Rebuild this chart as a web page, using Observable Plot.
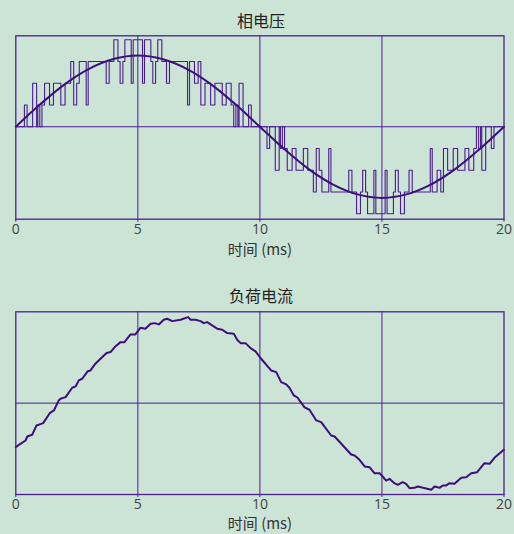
<!DOCTYPE html>
<html><head><meta charset="utf-8">
<script src="https://cdn.jsdelivr.net/npm/d3@7"></script>
<script src="https://cdn.jsdelivr.net/npm/@observablehq/plot@0.6"></script>
<style>
body{margin:0;background:#cce4d6;}
#wrap{position:relative;width:514px;height:534px;background:#cce4d6;overflow:hidden;}
.ttl{position:absolute;left:4px;width:514px;text-align:center;font-family:"Noto Sans CJK SC";font-size:16px;color:#222;line-height:1;}
.xl{position:absolute;left:3px;width:514px;text-align:center;font-family:"Noto Sans CJK SC","Open Sans";font-size:15px;color:#333;line-height:1;}
.panel{position:absolute;left:0;}
</style></head><body><div id="wrap"></div>
<script>
const titles = ["相电压", "负荷电流"];
const xLabel = "时间 (ms)";
const xTicks = [0, 5, 10, 15, 20];
const xGrid = [5, 10, 15];

// Phase voltage: PWM multilevel step waveform (transition time, level after it)
const pwmTime = [
  0, 0.353, 0.463, 0.690, 0.853, 0.902, 0.983, 1.072, 1.178, 1.381, 1.543, 1.844, 2.019, 2.250, 2.372, 2.494, 2.600, 2.884, 2.965, 3.704, 3.826, 4.017, 4.184, 4.273, 4.387, 4.468, 4.728, 4.809,
  5.191, 5.272, 5.532, 5.613, 5.727, 5.816, 5.983, 6.174, 6.296, 7.035, 7.116, 7.32, 7.47, 7.58, 7.75, 7.981, 8.156, 8.457, 8.619, 8.822, 8.928, 9.017, 9.098, 9.147, 9.310, 9.537, 9.647,
  10, 10.29, 10.40, 10.63, 10.79, 10.84, 10.92, 11.01, 11.12, 11.32, 11.48, 11.78, 11.96, 12.19, 12.31, 12.43, 12.54, 12.82, 12.91, 13.64, 13.77, 13.96, 14.12, 14.21, 14.33, 14.41, 14.67, 14.75,
  15.13, 15.21, 15.47, 15.55, 15.67, 15.76, 15.92, 16.11, 16.24, 16.98, 17.06, 17.26, 17.41, 17.52, 17.69, 17.92, 18.10, 18.40, 18.56, 18.76, 18.87, 18.96, 19.04, 19.09, 19.25, 19.48, 19.59,
  20
];
const pwmLevel = [
  0, 1, 0, 2, 0, 1, 0, 1, 2, 1, 2, 1, 2, 3, 1, 2, 3, 1, 3, 2, 3, 4, 3, 2, 3, 4, 2, 4,
  2, 4, 3, 2, 3, 4, 3, 2, 3, 1, 3, 2, 3, 1, 2, 1, 2, 1, 2, 1, 0, 1, 0, 2, 0, 1, 0,
  0, -1, 0, -2, 0, -1, 0, -1, -2, -1, -2, -1, -2, -3, -1, -2, -3, -1, -3, -2, -3, -4, -3, -2, -3, -4, -2, -4,
  -2, -4, -3, -2, -3, -4, -3, -2, -3, -1, -3, -2, -3, -1, -2, -1, -2, -1, -2, -1, 0, -1, 0, -2, 0, -1, 0,
  0
];

// Fundamental of phase voltage, read at each ms
const sineTime = [0,1,2,3,4,5,6,7,8,9,10,11,12,13,14,15,16,17,18,19,20];
const sineValue = [0,1.03,1.95,2.66,3.11,3.27,3.11,2.66,1.95,1.03,0,-1.03,-1.95,-2.66,-3.11,-3.27,-3.11,-2.66,-1.95,-1.03,0];

// Load current
const curTime = [0,0.19,0.40,0.47,0.67,0.85,1.12,1.39,1.56,1.76,1.83,2.04,2.31,2.45,2.58,2.72,2.95,3.06,3.26,3.47,3.72,3.88,4.08,4.29,4.45,4.70,4.90,5.11,5.31,5.52,5.69,5.86,6.06,6.20,6.41,6.75,7.06,7.16,7.36,7.57,7.70,7.84,7.98,8.25,8.46,8.66,8.93,9.07,9.21,9.41,9.62,9.82,10.05,10.46,10.67,10.87,11.08,11.21,11.39,11.55,11.62,11.83,12.03,12.31,12.51,12.92,13.06,13.74,13.88,14.08,14.29,14.49,14.69,14.90,15.03,15.17,15.31,15.51,15.65,15.85,15.99,16.13,16.33,16.47,17.02,17.15,17.36,17.49,17.63,17.77,17.97,18.25,18.45,18.66,18.90,19.20,19.41,19.61,19.99];
const curValue = [-0.482,-0.445,-0.409,-0.365,-0.346,-0.244,-0.219,-0.110,-0.080,0.030,0.048,0.066,0.169,0.183,0.249,0.267,0.350,0.358,0.432,0.486,0.548,0.559,0.621,0.668,0.668,0.752,0.752,0.826,0.815,0.870,0.876,0.862,0.913,0.924,0.898,0.913,0.942,0.913,0.913,0.898,0.876,0.887,0.862,0.815,0.804,0.767,0.760,0.694,0.657,0.657,0.602,0.566,0.486,0.358,0.340,0.230,0.205,0.169,0.084,0.059,0.030,-0.047,-0.072,-0.189,-0.208,-0.354,-0.365,-0.562,-0.573,-0.620,-0.693,-0.701,-0.767,-0.767,-0.803,-0.847,-0.828,-0.876,-0.894,-0.865,-0.883,-0.931,-0.927,-0.912,-0.949,-0.912,-0.927,-0.901,-0.901,-0.876,-0.883,-0.817,-0.811,-0.767,-0.756,-0.657,-0.664,-0.598,-0.510];

const gridColor = "#4b1d96";
const lineColor = "#3c0f7c";
const tickText = "#444";

const pwm = pwmTime.map((t, i) => ({t, v: pwmLevel[i]}));
const sine = sineTime.map((t, i) => ({t, v: sineValue[i]}));
const cur = curTime.map((t, i) => ({t, v: curValue[i]}));

function panel(opts, marks) {
  return Plot.plot({
    width: 514, height: opts.height,
    marginLeft: 15.3, marginRight: 10.5, marginTop: opts.mt, marginBottom: opts.mb,
    style: {background: "transparent", fontFamily: "Open Sans", fontSize: "14px", overflow: "visible"},
    x: {domain: [0, 20]},
    y: {domain: opts.yd, axis: null},
    marks: [
      Plot.ruleX(xGrid, {stroke: gridColor, strokeWidth: 1}),
      Plot.ruleY([0], {stroke: gridColor, strokeWidth: 1}),
      ...marks,
      Plot.frame({stroke: gridColor, strokeWidth: 1.3}),
      Plot.axisX(xTicks, {tickSize: 3, tickPadding: 2, stroke: gridColor, fill: tickText, fontSize: 14, label: null})
    ]
  });
}

const wrap = document.getElementById("wrap");

const p1 = panel({height: 260, mt: 35.3, mb: 41.3, yd: [-4.25, 4.18]}, [
  Plot.line(pwm, {x: "t", y: "v", curve: "step-after", stroke: "#4a1c90", strokeWidth: 1.1}),
  Plot.line(sine, {x: "t", y: "v", curve: "catmull-rom", stroke: lineColor, strokeWidth: 2})
]);
p1.classList.add("panel"); p1.style.top = "0px";
wrap.appendChild(p1);

const p2 = panel({height: 264, mt: 41.3, mb: 40, yd: [-1, 1]}, [
  Plot.line(cur, {x: "t", y: "v", stroke: lineColor, strokeWidth: 2})
]);
p2.classList.add("panel"); p2.style.top = "270px";
wrap.appendChild(p2);

function addText(cls, txt, top) {
  const d = document.createElement("div");
  d.className = cls; d.textContent = txt; d.style.top = top + "px";
  wrap.appendChild(d);
}
addText("ttl", titles[0], 12);
addText("xl", xLabel, 241);
addText("ttl", titles[1], 287);
addText("xl", xLabel, 515);
</script>
</body></html>
